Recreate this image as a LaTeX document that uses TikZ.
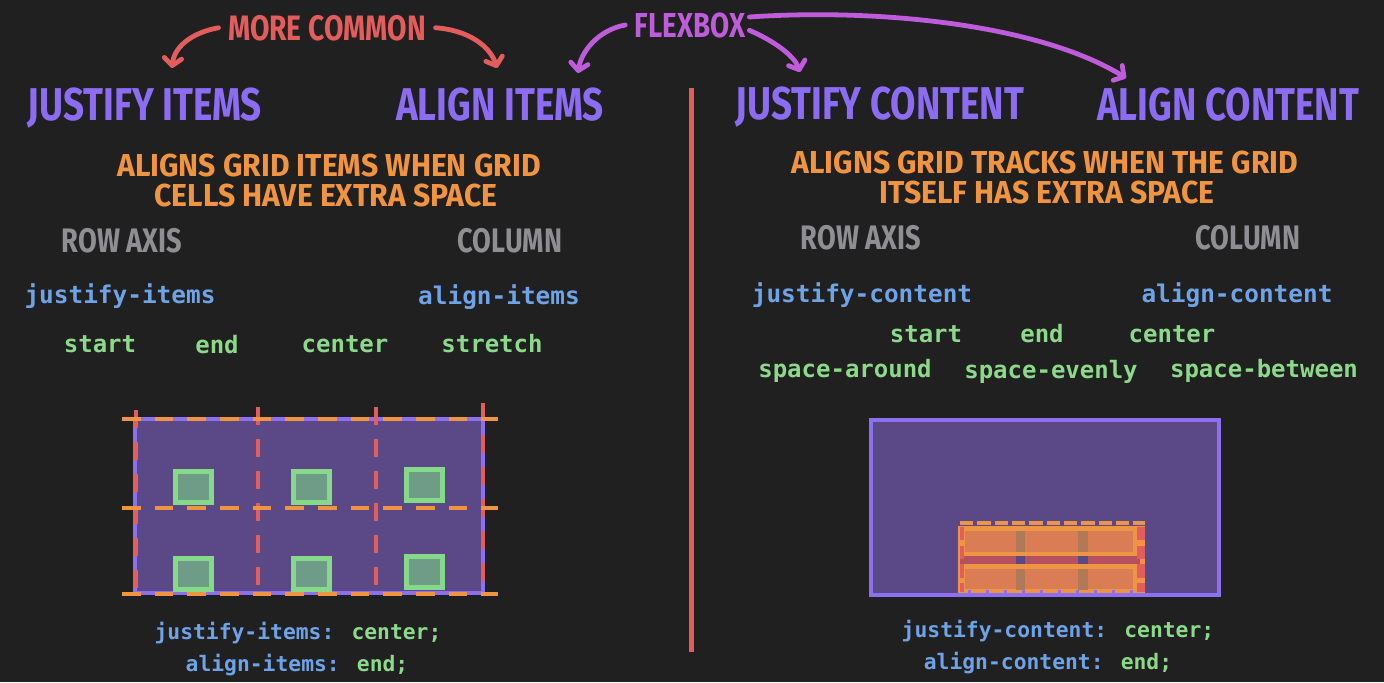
\documentclass[tikz,border=0pt]{standalone}
\usepackage{fontspec}
\newfontfamily\hand[FakeStretch=0.8]{Fira Sans}
\newfontfamily\handwide[FakeStretch=0.95]{Fira Sans}
\newfontfamily\code{DejaVu Sans Mono}
\usetikzlibrary{arrows.meta}
\definecolor{bg}{HTML}{202020}
\definecolor{hpurple}{HTML}{8B6CF2}
\definecolor{hred}{HTML}{E35D5D}
\definecolor{hmag}{HTML}{BE5CDB}
\definecolor{horange}{HTML}{F0943F}
\definecolor{hgray}{HTML}{8E8E93}
\definecolor{cblue}{HTML}{6FA3E8}
\definecolor{cgreen}{HTML}{8CD98A}
\definecolor{gridfill}{HTML}{5A4986}
\definecolor{gridline}{HTML}{8C70F0}
\definecolor{boxline}{HTML}{86D989}
\definecolor{boxfill}{HTML}{6E9C87}
\definecolor{itemorange}{HTML}{EE9445}
\definecolor{itemsalmon}{HTML}{DA7D55}
\definecolor{itemband}{HTML}{B5505F}
\definecolor{itembrown}{HTML}{B07A58}
\tikzset{
  hw/.style={inner sep=0pt, anchor=base},
  more/.style={hw, text=hred, font=\hand\bfseries\fontsize{26.5}{28}\selectfont},
  flex/.style={hw, text=hmag, font=\hand\bfseries\fontsize{26}{28}\selectfont},
  head/.style={hw, text=hpurple, font=\hand\bfseries\fontsize{34.5}{36}\selectfont},
  desc/.style={hw, text=horange, font=\handwide\bfseries\fontsize{23.8}{25}\selectfont},
  axis/.style={hw, text=hgray, font=\hand\bfseries\fontsize{25.5}{27}\selectfont},
  prop/.style={hw, text=cblue, font=\code\bfseries\fontsize{18.3}{20}\selectfont},
  val/.style={hw, text=cgreen, font=\code\bfseries\fontsize{18}{20}\selectfont},
  codeline/.style={hw, font=\code\bfseries\fontsize{16}{18}\selectfont},
  rarrow/.style={draw=hred, line width=3.6pt, line cap=round, -{Straight Barb[round,length=5.5pt,width=13pt]}},
  farrow/.style={draw=hmag, line width=3.6pt, line cap=round, -{Straight Barb[round,length=5.5pt,width=13pt]}},
  gridbox/.style={fill=gridfill, draw=gridline, line width=3pt},
  rdash/.style={draw=hred, line width=3pt, dash pattern=on 13.5pt off 10.5pt},
  odash/.style={draw=horange, line width=3pt, dash pattern=on 14pt off 10.5pt},
  gbox/.style={draw=boxline, fill=boxfill, line width=3.75pt},
  divider/.style={draw=hred, line width=3.75pt},
}
\begin{document}
\begin{tikzpicture}[x=0.75pt, y=-0.75pt]
\fill[bg] (0,0) rectangle (1384,682);
\useasboundingbox (0,0) rectangle (1384,682);

% titles
\node[more] (more) at (327,40) {MORE COMMON};
\node[flex] (flex) at (690,37) {FLEXBOX};
\node[head] (ji) at (145,120) {JUSTIFY ITEMS};
\node[head] (ai) at (500,120) {ALIGN ITEMS};
\node[head] (jc) at (880,119) {JUSTIFY CONTENT};
\node[head] (ac) at (1228,120) {ALIGN CONTENT};

% arrow tips
\coordinate (tipJI) at (172,68);
\coordinate (tipAI) at (497,68);
\coordinate (tipAIf) at (578,73);
\coordinate (tipJC) at (800,72);
\coordinate (tipAC) at (1126,78);

\draw[rarrow] ([xshift=-7pt]more.west) .. controls (190,33) and (174,48) .. (tipJI);
\draw[rarrow] ([xshift=7pt]more.east) .. controls (468,30) and (490,46) .. (tipAI);
\draw[farrow] ([xshift=-7pt]flex.west) .. controls (598,30) and (581,52) .. (tipAIf);
\draw[farrow] ([xshift=3pt,yshift=-4pt]flex.east) .. controls (772,40) and (794,55) .. (tipJC);
\draw[farrow] ([xshift=3pt,yshift=6pt]flex.east) .. controls (880,8) and (1040,25) .. (tipAC);

% descriptions
\node[desc] (d1) at (329,176) {ALIGNS GRID ITEMS WHEN GRID};
\node[desc] (d2) at (326,206) {CELLS HAVE EXTRA SPACE};
\node[desc] (d3) at (1045,173) {ALIGNS GRID TRACKS WHEN THE GRID};
\node[desc] (d4) at (1047,203) {ITSELF HAS EXTRA SPACE};

% axes
\node[axis] (ra1) at (122,252) {ROW AXIS};
\node[axis] (col1) at (510,252) {COLUMN};
\node[axis] (ra2) at (861,249) {ROW AXIS};
\node[axis] (col2) at (1248,249) {COLUMN};

% properties
\node[prop] (pji) at (120,303) {justify-items};
\node[prop] (pai) at (499,304) {align-items};
\node[prop] (pjc) at (862,302) {justify-content};
\node[prop] (pac) at (1237,302) {align-content};

% values left
\node[val] (vs1) at (100,352) {start};
\node[val] (ve1) at (217,353) {end};
\node[val] (vc1) at (345,352) {center};
\node[val] (vst1) at (492,352) {stretch};
% values right
\node[val] (vs2) at (926,342) {start};
\node[val] (ve2) at (1042,342) {end};
\node[val] (vc2) at (1172,342) {center};
\node[val] (vsa) at (845,377) {space-around};
\node[val] (vse) at (1051,378) {space-evenly};
\node[val] (vsb) at (1264,377) {space-between};

% divider
\draw[divider] (691,88) -- (691,652);

% left grid
\draw[gridbox] (135,419) rectangle (483,593);
\foreach \x/\y in {136/410, 258/407, 376/407, 483/403}
  \draw[rdash] (\x,\y) -- (\x,595);
\foreach \y in {419,508,594}
  \draw[odash] (122,\y) -- (498,\y);
\foreach \x/\y in {193.5/487, 311.5/487, 424.5/485, 193.5/573.5, 311.5/573.5, 424.5/571.5}
  \draw[gbox] ({\x-18},{\y-15.5}) rectangle ({\x+18},{\y+15.5});

% right grid
\draw[gridbox] (871,420) rectangle (1219,595);
\fill[itemorange] (958,526) rectangle (1145,593);
\fill[itemsalmon] (965,531) rectangle (1133,552);
\fill[itemsalmon] (965,569) rectangle (1133,589);
\fill[itemband] (960,556) rectangle (1140,564);
\fill[gridfill] (1016,556) rectangle (1025,564);
\fill[gridfill] (1078,556) rectangle (1088,564);
\foreach \y in {531,569}{
  \fill[itembrown] (1016,\y) rectangle (1025,\y+21);
  \fill[itembrown] (1078,\y) rectangle (1088,\y+21);
}
\draw[draw=itemorange, line width=3pt, dash pattern=on 10pt off 3pt] (960,523) -- (1145,523);
\draw[draw=hred, line width=3pt, dash pattern=on 10pt off 4pt] (962,527) -- (962,592);
\draw[draw=hred, line width=6pt, dash pattern=on 10pt off 4pt] (1141,527) -- (1141,592);
\draw[draw=gridline, line width=2.5pt, dash pattern=on 2.5pt off 11pt] (968,592) -- (1140,592);

% code lines
\node[codeline] (cl1) at (298,639) {\textcolor{cblue}{justify-items:} \textcolor{cgreen}{center;}};
\node[codeline] (cl2) at (297,671) {\textcolor{cblue}{align-items:} \textcolor{cgreen}{end;}};
\node[codeline] (cr1) at (1058,637) {\textcolor{cblue}{justify-content:} \textcolor{cgreen}{center;}};
\node[codeline] (cr2) at (1048,669) {\textcolor{cblue}{align-content:} \textcolor{cgreen}{end;}};
\end{tikzpicture}
\end{document}
